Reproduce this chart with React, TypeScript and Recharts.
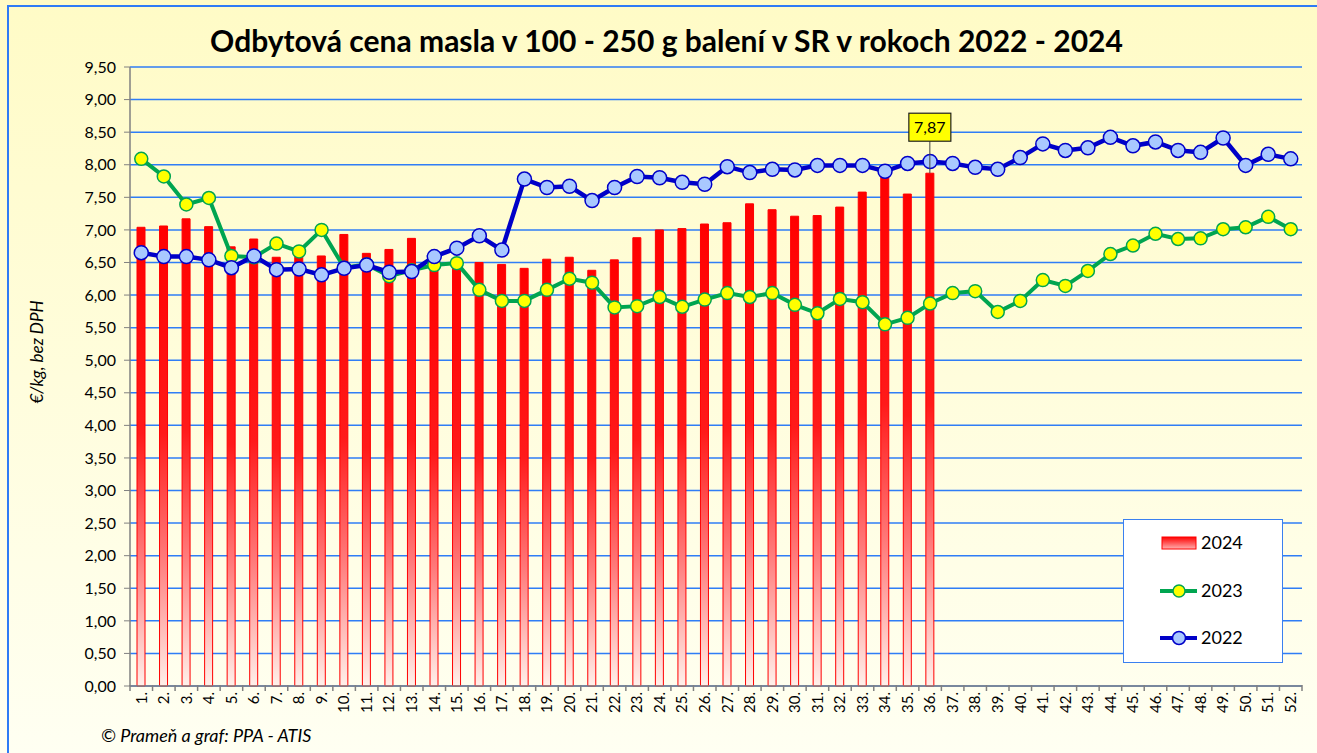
import React from 'react';
import {
  ComposedChart,
  Bar,
  Line,
  XAxis,
  YAxis,
  CartesianGrid,
  Legend,
  LabelList,
} from 'recharts';

// týždne 1. - 52.
const weeks = [
  '1.', '2.', '3.', '4.', '5.', '6.', '7.', '8.', '9.', '10.',
  '11.', '12.', '13.', '14.', '15.', '16.', '17.', '18.', '19.', '20.',
  '21.', '22.', '23.', '24.', '25.', '26.', '27.', '28.', '29.', '30.',
  '31.', '32.', '33.', '34.', '35.', '36.', '37.', '38.', '39.', '40.',
  '41.', '42.', '43.', '44.', '45.', '46.', '47.', '48.', '49.', '50.',
  '51.', '52.',
];

const price2024 = [
  7.04, 7.06, 7.17, 7.05, 6.74, 6.86, 6.58, 6.6, 6.6, 6.93,
  6.64, 6.7, 6.87, 6.48, 6.5, 6.5, 6.47, 6.41, 6.55, 6.58,
  6.38, 6.54, 6.88, 7.0, 7.02, 7.09, 7.11, 7.4, 7.31, 7.21,
  7.22, 7.35, 7.58, 7.88, 7.55, 7.87,
];

const price2023 = [
  8.09, 7.82, 7.39, 7.49, 6.6, 6.58, 6.79, 6.67, 7.0, 6.42,
  6.47, 6.29, 6.38, 6.46, 6.49, 6.08, 5.91, 5.91, 6.08, 6.25,
  6.19, 5.81, 5.83, 5.97, 5.82, 5.93, 6.03, 5.97, 6.03, 5.85,
  5.72, 5.94, 5.89, 5.55, 5.65, 5.87, 6.03, 6.06, 5.74, 5.91,
  6.23, 6.14, 6.37, 6.63, 6.76, 6.94, 6.86, 6.87, 7.01, 7.04,
  7.2, 7.01,
];

const price2022 = [
  6.65, 6.59, 6.59, 6.54, 6.42, 6.6, 6.39, 6.4, 6.31, 6.41,
  6.46, 6.35, 6.36, 6.59, 6.72, 6.91, 6.69, 7.78, 7.65, 7.67,
  7.45, 7.65, 7.82, 7.8, 7.73, 7.7, 7.97, 7.88, 7.93, 7.92,
  7.99, 7.99, 7.99, 7.9, 8.02, 8.05, 8.02, 7.96, 7.93, 8.11,
  8.32, 8.22, 8.26, 8.42, 8.29, 8.35, 8.22, 8.19, 8.41, 7.99,
  8.16, 8.09,
];

const yTicks = [
  0, 0.5, 1, 1.5, 2, 2.5, 3, 3.5, 4, 4.5,
  5, 5.5, 6, 6.5, 7, 7.5, 8, 8.5, 9, 9.5,
];

const FONT = 'Lato, "Open Sans", sans-serif';

const data = weeks.map((w, i) => ({
  week: w,
  y2024: i < price2024.length ? price2024[i] : null,
  y2023: price2023[i],
  y2022: price2022[i],
  last: i === price2024.length - 1 ? price2024[i] : null,
}));

const fmt = (v: number) => v.toFixed(2).replace('.', ',');

function WeekTick(props: any) {
  const { x, y, payload, index, visibleTicksCount } = props;
  const off = payload && payload.offset ? payload.offset : 11.27;
  return (
    <g>
      <line x1={x - off} y1={y - 6} x2={x - off} y2={y} stroke="#808080" strokeWidth={1.5} />
      {index === visibleTicksCount - 1 && (
        <line x1={x + off} y1={y - 6} x2={x + off} y2={y} stroke="#808080" strokeWidth={1.5} />
      )}
      <text
        transform={`translate(${x},${y + 1}) rotate(-90)`}
        textAnchor="end"
        dy="0.35em"
        fontSize={15}
        fontFamily={FONT}
        fill="#000"
      >
        {payload.value}
      </text>
    </g>
  );
}

function LastLabel(props: any) {
  const { x, y, width, value } = props;
  if (value === null || value === undefined) return null;
  const cx = x + width / 2;
  return (
    <g>
      <line x1={cx} y1={y} x2={cx} y2={y - 32} stroke="#404040" strokeWidth={1} />
      <rect x={cx - 21} y={y - 60} width={42} height={28} fill="#ffff00" stroke="#202020" strokeWidth={1.2} />
      <text x={cx} y={y - 46} textAnchor="middle" dy="0.35em" fontSize={16} fontFamily={FONT} fill="#000">
        {fmt(Number(value))}
      </text>
    </g>
  );
}

function LegendBox() {
  return (
    <div
      style={{
        width: 160,
        height: 144,
        boxSizing: 'border-box',
        border: '1.5px solid #3a80f0',
        background: '#ffffff',
      }}
    >
      <svg width={157} height={141}>
        <defs>
          <linearGradient id="legGrad" x1="0" y1="0" x2="0" y2="1">
            <stop offset="0%" stopColor="#ff0000" />
            <stop offset="100%" stopColor="#ffb0b0" />
          </linearGradient>
        </defs>
        <rect x={38} y={17} width={34} height={12} fill="url(#legGrad)" stroke="#ff0000" />
        <text x={77} y={23} dy="0.35em" fontSize={18} fontFamily={FONT} fill="#000">2024</text>
        <line x1={36} y1={71} x2={73} y2={71} stroke="#00a550" strokeWidth={4} />
        <circle cx={55} cy={71} r={6} fill="#ffff00" stroke="#00a550" strokeWidth={1.5} />
        <text x={77} y={71} dy="0.35em" fontSize={18} fontFamily={FONT} fill="#000">2023</text>
        <line x1={36} y1={118} x2={73} y2={118} stroke="#0000c8" strokeWidth={4} />
        <circle cx={55} cy={118} r={6.5} fill="#a9c8ff" stroke="#0000c8" strokeWidth={1.5} />
        <text x={77} y={118} dy="0.35em" fontSize={18} fontFamily={FONT} fill="#000">2022</text>
      </svg>
    </div>
  );
}

export default function App() {
  return (
    <div
      style={{
        position: 'absolute',
        left: 0,
        top: 0,
        width: 1317,
        height: 753,
        overflow: 'hidden',
        background: 'linear-gradient(#fffbc6, #fffff2)',
      }}
    >
      <svg
        width={1317}
        height={753}
        style={{ position: 'absolute', left: 0, top: 0 }}
      >
        {/* rám grafu: horná a ľavá hrana */}
        <line x1={7} y1={6} x2={1317} y2={6} stroke="#2f7bf5" strokeWidth={2} />
        <line x1={8} y1={5} x2={8} y2={753} stroke="#2f7bf5" strokeWidth={2} />
        <text
          transform="translate(37,352) rotate(-90)"
          textAnchor="middle"
          dy="0.35em"
          fontFamily={FONT}
          fontStyle="italic"
          fontSize={17}
          fill="#000"
        >
          €/kg, bez DPH
        </text>
        <text
          x={101}
          y={742}
          fontFamily={FONT}
          fontStyle="italic"
          fontSize={18}
          fill="#000"
        >
          © Prameň a graf: PPA - ATIS
        </text>
      </svg>
      <div
        style={{
          position: 'absolute',
          left: 0,
          width: 1333,
          top: 22,
          textAlign: 'center',
          fontFamily: FONT,
          fontWeight: 700,
          fontSize: 30,
          lineHeight: '36px',
          color: '#000',
        }}
      >
        Odbytová cena masla v 100 - 250 g balení v SR v rokoch 2022 - 2024
      </div>
      <div style={{ position: 'absolute', left: 0, top: 0 }}>
        <ComposedChart
          width={1317}
          height={753}
          data={data}
          margin={{ top: 67, right: 15, left: 0, bottom: 0 }}
          barCategoryGap={0}
        >
          <defs>
            <linearGradient id="barGrad" x1="0" y1="0" x2="0" y2="1">
              <stop offset="0%" stopColor="#ff0000" />
              <stop offset="45%" stopColor="#ff1a1a" />
              <stop offset="72%" stopColor="#ff7a7a" />
              <stop offset="100%" stopColor="#fff0ea" />
            </linearGradient>
          </defs>
          <CartesianGrid vertical={false} stroke="#2f7df6" strokeWidth={1.5} />
          <XAxis
            dataKey="week"
            height={67}
            interval={0}
            tickSize={5}
            tickMargin={0}
            tickLine={false}
            axisLine={{ stroke: '#808080', strokeWidth: 1.5 }}
            tick={<WeekTick />}
          />
          <YAxis
            width={130}
            domain={[0, 9.5]}
            ticks={yTicks}
            interval={0}
            tickFormatter={fmt}
            tickSize={6}
            tickMargin={8}
            axisLine={{ stroke: '#808080', strokeWidth: 1.5 }}
            tickLine={{ stroke: '#808080' }}
            tick={{ fontSize: 16, fontFamily: FONT, fill: '#000' }}
          />
          <Bar
            dataKey="y2024"
            name="2024"
            barSize={8}
            fill="url(#barGrad)"
            stroke="#ff0000"
            strokeWidth={1}
            isAnimationActive={false}
          >
            <LabelList dataKey="last" content={<LastLabel />} />
          </Bar>
          <Line
            dataKey="y2023"
            name="2023"
            type="linear"
            stroke="#00a550"
            strokeWidth={4}
            dot={{ r: 6.5, fill: '#ffff00', stroke: '#00a550', strokeWidth: 1.5 }}
            isAnimationActive={false}
          />
          <Line
            dataKey="y2022"
            name="2022"
            type="linear"
            stroke="#0000c8"
            strokeWidth={4.5}
            dot={{ r: 7, fill: '#a9c8ff', stroke: '#0000c8', strokeWidth: 1.5 }}
            isAnimationActive={false}
          />
          <Legend
            layout="vertical"
            align="center"
            verticalAlign="middle"
            content={<LegendBox />}
            wrapperStyle={{ position: 'absolute', left: 1123, top: 519, width: 160, height: 144 }}
          />
        </ComposedChart>
      </div>
    </div>
  );
}
